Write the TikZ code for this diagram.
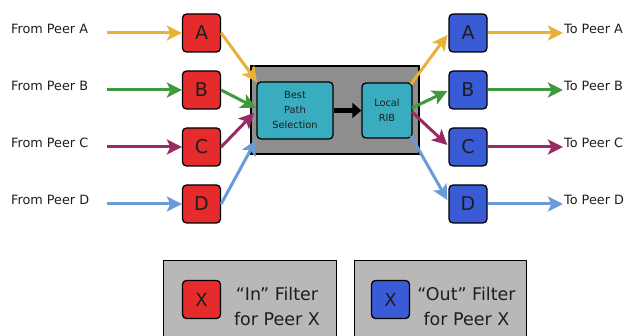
\documentclass[tikz,border=0pt]{standalone}
\usepackage{fontspec}
\setmainfont{DejaVu Sans}
\usetikzlibrary{arrows.meta,calc}
\definecolor{fred}{HTML}{E52B2B}
\definecolor{fblue}{HTML}{3A5BD6}
\definecolor{teal2}{HTML}{3AACC0}
\definecolor{midgray}{HTML}{8E8E8E}
\definecolor{leggray}{HTML}{BAB7B7}
\definecolor{cyel}{HTML}{E9B236}
\definecolor{cgrn}{HTML}{3F993F}
\definecolor{cpur}{HTML}{9A2A66}
\definecolor{cblu}{HTML}{6A9BD8}
\definecolor{txt}{HTML}{1E1E1E}
\tikzset{
  filt/.style={draw=black, line width=1.3pt, rounded corners=4pt, minimum width=38pt, minimum height=38pt, inner sep=0pt, text=txt, font=\fontsize{19}{19}\selectfont},
  infilt/.style={filt, fill=fred},
  outfilt/.style={filt, fill=fblue},
  lbl/.style={text=txt, font=\fontsize{12.8}{15}\selectfont, inner sep=0pt},
  flow/.style={line width=3pt, -{Stealth[length=15pt,width=15pt,inset=3.5pt]}},
  proc/.style={draw=black, line width=1.3pt, rounded corners=4pt, fill=teal2, inner sep=0pt, text=txt, align=center, font=\fontsize{9.8}{15}\selectfont},
  legbox/.style={draw=black, line width=1.3pt, fill=leggray},
  legtxt/.style={text=txt, align=center, inner sep=0pt, font=\fontsize{17.5}{25}\selectfont}
}
\begin{document}
\begin{tikzpicture}[x=1pt,y=-1pt]
\useasboundingbox (0,0) rectangle (627,336);
\clip (0,0) rectangle (627,336);
\fill[white] (0,0) rectangle (627,336);

% central box
\node[draw=black, line width=1.3pt, fill=midgray, minimum width=168pt, minimum height=88pt, inner sep=0pt] (core) at (335,110) {};
\node[proc, minimum width=76pt, minimum height=57pt] (bps) at (295,110.5) {Best\\Path\\Selection};
\node[proc, minimum width=50pt, minimum height=55pt] (rib) at (387,110.5) {Local\\RIB};
\draw[line width=5pt, -{Triangle[length=9pt,width=15pt]}] (bps.east) -- (rib.west);

% filters, labels
\foreach \n/\y in {A/33,B/90,C/147,D/204}{
  \node[infilt] (in\n) at (201.5,\y) {\n};
  \node[outfilt] (out\n) at (468,\y) {\n};
  \node[lbl, anchor=west] (from\n) at (11,\y-4) {From Peer \n};
  \node[lbl, anchor=west] (to\n) at (564,\y-4) {To Peer \n};
  \coordinate (src\n) at (107,\y);
  \coordinate (dst\n) at (563,\y);
}

\coordinate (ia) at (257,82);
\coordinate (ib) at (256,108);
\coordinate (ic) at (254,113);
\coordinate (id) at (256,140);
\coordinate (oa) at (411,84);
\coordinate (ob) at (412,108);
\coordinate (oc) at (412,112);
\coordinate (od) at (411,136);

\foreach \n/\c in {A/cyel, B/cgrn, C/cpur, D/cblu}{
  \draw[flow, draw=\c, fill=\c] (src\n) -- (in\n.west);
  \draw[flow, draw=\c, fill=\c] (out\n.east) -- (dst\n);
}
\draw[flow, cyel] (inA.east) -- (ia);
\draw[flow, cgrn] (inB.east) -- (ib);
\draw[flow, cpur] (inC.east) -- (ic);
\draw[flow, cblu] (inD.east) -- (id);
\draw[flow, cyel] (oa) -- ($(outA.west)+(-1,2)$);
\draw[flow, cgrn] (ob) -- ($(outB.west)+(-1,1)$);
\draw[flow, cpur] (oc) -- ($(outC.west)+(-1,-2)$);
\draw[flow, cblu] (od) -- ($(outD.west)+(-1,-4)$);

% legend
\node[legbox, minimum width=173pt, minimum height=90pt, inner sep=0pt, anchor=north west] (legin) at (163,260) {};
\node[legbox, minimum width=172pt, minimum height=90pt, inner sep=0pt, anchor=north west] (legout) at (354,260) {};
\node[infilt, font=\fontsize{18}{18}\selectfont] (kin) at (201.5,299.5) {X};
\node[outfilt, font=\fontsize{18}{18}\selectfont] (kout) at (390.5,299.5) {X};
\node[legtxt] (tin) at (277,306) {“In” Filter\\for Peer X};
\node[legtxt] (tout) at (466.5,306) {“Out” Filter\\for Peer X};
\end{tikzpicture}
\end{document}
